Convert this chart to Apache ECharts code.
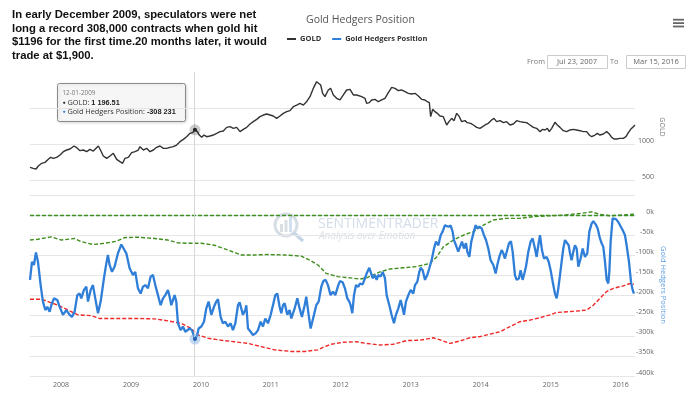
<!DOCTYPE html>
<html>
<head>
<meta charset="utf-8">
<title>Gold Hedgers Position</title>
<script src="https://cdn.jsdelivr.net/npm/echarts@6/dist/echarts.min.js"></script>
<style>
  html, body { margin: 0; padding: 0; background: #fff; }
  #chart { width: 700px; height: 399px; }
</style>
</head>
<body>
<div id="chart"></div>
<script>
// time is kept in decimal years (2009.915 = Dec 1, 2009)
const goldYears = [2007.557,2007.604,2007.643,2007.676,2007.724,2007.771,2007.819,2007.852,2007.890,2007.938,2007.986,2008.033,2008.081,2008.129,2008.186,2008.224,2008.272,2008.319,2008.367,2008.414,2008.462,2008.534,2008.557,2008.605,2008.653,2008.700,2008.748,2008.796,2008.843,2008.881,2008.915,2008.962,2009.010,2009.058,2009.105,2009.129,2009.177,2009.224,2009.272,2009.320,2009.367,2009.415,2009.463,2009.510,2009.558,2009.606,2009.653,2009.701,2009.749,2009.796,2009.844,2009.882,2009.915,2009.949,2009.977,2010.011,2010.044,2010.082,2010.130,2010.177,2010.225,2010.273,2010.320,2010.368,2010.416,2010.463,2010.511,2010.559,2010.606,2010.654,2010.702,2010.749,2010.797,2010.845,2010.892,2010.940,2010.988,2011.035,2011.083,2011.130,2011.178,2011.226,2011.273,2011.321,2011.369,2011.416,2011.464,2011.511,2011.559,2011.607,2011.654,2011.678,2011.712,2011.740,2011.773,2011.821,2011.854,2011.893,2011.940,2011.988,2012.036,2012.083,2012.131,2012.179,2012.226,2012.298,2012.345,2012.369,2012.407,2012.441,2012.488,2012.536,2012.584,2012.631,2012.679,2012.727,2012.774,2012.822,2012.869,2012.917,2012.965,2013.012,2013.060,2013.108,2013.155,2013.203,2013.236,2013.265,2013.284,2013.313,2013.346,2013.379,2013.417,2013.465,2013.513,2013.546,2013.584,2013.618,2013.656,2013.694,2013.727,2013.775,2013.808,2013.856,2013.894,2013.942,2013.989,2014.027,2014.061,2014.108,2014.156,2014.189,2014.227,2014.275,2014.323,2014.370,2014.418,2014.466,2014.513,2014.561,2014.609,2014.656,2014.704,2014.752,2014.799,2014.847,2014.885,2014.918,2014.952,2014.980,2015.014,2015.061,2015.095,2015.133,2015.180,2015.228,2015.276,2015.323,2015.371,2015.419,2015.466,2015.514,2015.552,2015.585,2015.633,2015.666,2015.704,2015.752,2015.800,2015.838,2015.871,2015.905,2015.943,2015.990,2016.038,2016.076,2016.110,2016.143,2016.181,2016.205];
const goldPrice = [677,663,654,696,733,746,788,816,802,816,848,894,917,931,972,949,908,917,894,926,903,972,931,834,802,834,871,788,756,733,802,816,880,894,917,963,917,940,894,917,954,972,940,940,954,963,986,1032,1064,1101,1147,1157,1196.51,1171,1124,1092,1124,1101,1111,1124,1147,1171,1180,1230,1240,1217,1230,1171,1203,1230,1277,1309,1341,1378,1401,1415,1401,1387,1355,1387,1424,1447,1461,1516,1539,1562,1539,1585,1655,1770,1862,1885,1816,1701,1655,1747,1770,1678,1632,1609,1678,1747,1755,1678,1678,1655,1632,1562,1572,1609,1618,1585,1609,1632,1710,1784,1770,1738,1747,1724,1701,1691,1701,1664,1618,1609,1585,1572,1378,1479,1447,1424,1387,1378,1263,1309,1355,1323,1424,1378,1309,1323,1295,1286,1263,1230,1217,1240,1263,1286,1332,1355,1309,1323,1295,1309,1263,1277,1323,1309,1300,1295,1263,1230,1217,1171,1203,1194,1217,1171,1217,1300,1263,1230,1184,1171,1194,1203,1194,1184,1171,1171,1124,1101,1124,1147,1124,1138,1171,1138,1092,1069,1069,1078,1078,1101,1157,1203,1240,1263];

// net position, thousands of contracts
const hedgerYears = [2007.557,2007.585,2007.614,2007.642,2007.671,2007.709,2007.742,2007.776,2007.804,2007.838,2007.861,2007.900,2007.947,2007.981,2008.028,2008.076,2008.124,2008.157,2008.195,2008.233,2008.266,2008.290,2008.328,2008.362,2008.386,2008.424,2008.457,2008.490,2008.529,2008.567,2008.614,2008.648,2008.671,2008.695,2008.729,2008.767,2008.814,2008.862,2008.895,2008.934,2008.981,2009.029,2009.062,2009.100,2009.138,2009.172,2009.205,2009.243,2009.281,2009.315,2009.348,2009.386,2009.424,2009.458,2009.491,2009.529,2009.553,2009.577,2009.624,2009.648,2009.672,2009.710,2009.743,2009.777,2009.805,2009.839,2009.872,2009.915,2009.948,2009.967,2010.006,2010.044,2010.077,2010.110,2010.149,2010.187,2010.220,2010.244,2010.282,2010.315,2010.349,2010.387,2010.425,2010.458,2010.492,2010.530,2010.554,2010.577,2010.601,2010.635,2010.649,2010.673,2010.711,2010.744,2010.782,2010.816,2010.854,2010.887,2010.920,2010.959,2010.997,2011.030,2011.063,2011.092,2011.125,2011.149,2011.173,2011.197,2011.235,2011.268,2011.292,2011.316,2011.340,2011.378,2011.411,2011.444,2011.483,2011.506,2011.540,2011.568,2011.587,2011.616,2011.649,2011.683,2011.721,2011.750,2011.783,2011.816,2011.854,2011.888,2011.921,2011.964,2011.988,2012.026,2012.059,2012.093,2012.121,2012.140,2012.164,2012.188,2012.217,2012.250,2012.274,2012.312,2012.345,2012.369,2012.407,2012.426,2012.455,2012.488,2012.512,2012.536,2012.569,2012.598,2012.631,2012.655,2012.693,2012.726,2012.760,2012.788,2012.822,2012.855,2012.884,2012.903,2012.931,2012.965,2012.998,2013.036,2013.060,2013.093,2013.122,2013.141,2013.170,2013.203,2013.236,2013.265,2013.298,2013.332,2013.360,2013.394,2013.427,2013.455,2013.489,2013.513,2013.536,2013.570,2013.598,2013.617,2013.646,2013.679,2013.703,2013.732,2013.760,2013.789,2013.808,2013.837,2013.865,2013.894,2013.927,2013.951,2013.980,2014.013,2014.046,2014.075,2014.108,2014.141,2014.180,2014.213,2014.237,2014.265,2014.299,2014.323,2014.346,2014.370,2014.404,2014.432,2014.456,2014.489,2014.513,2014.547,2014.570,2014.599,2014.623,2014.647,2014.680,2014.713,2014.742,2014.775,2014.799,2014.823,2014.847,2014.875,2014.904,2014.942,2014.971,2014.999,2015.037,2015.061,2015.085,2015.109,2015.133,2015.156,2015.180,2015.204,2015.228,2015.257,2015.276,2015.299,2015.323,2015.347,2015.371,2015.395,2015.428,2015.457,2015.490,2015.523,2015.552,2015.585,2015.609,2015.643,2015.671,2015.704,2015.728,2015.752,2015.776,2015.800,2015.823,2015.838,2015.857,2015.885,2015.905,2015.933,2015.966,2015.990,2016.028,2016.062,2016.085,2016.119,2016.148,2016.171,2016.190];
const hedgerPos = [-161,-116,-124,-93,-116,-174,-215,-236,-228,-240,-224,-207,-211,-228,-248,-236,-248,-253,-240,-199,-195,-207,-186,-178,-215,-186,-174,-207,-244,-215,-157,-120,-99,-124,-141,-128,-95,-73,-83,-95,-132,-149,-141,-182,-195,-178,-174,-182,-153,-149,-174,-199,-224,-207,-199,-186,-203,-224,-199,-215,-269,-286,-277,-290,-294,-282,-286,-308.231,-298,-282,-277,-265,-232,-215,-248,-228,-215,-209,-253,-269,-265,-277,-269,-286,-269,-224,-217,-232,-248,-236,-224,-282,-290,-298,-294,-286,-265,-277,-257,-269,-248,-224,-199,-195,-228,-244,-224,-219,-248,-236,-257,-261,-232,-207,-232,-253,-224,-203,-248,-282,-286,-248,-224,-215,-178,-164,-161,-174,-199,-190,-199,-174,-164,-167,-182,-207,-215,-224,-244,-199,-174,-178,-170,-172,-157,-145,-131,-141,-157,-149,-161,-149,-153,-141,-157,-199,-224,-248,-269,-248,-232,-211,-232,-248,-215,-199,-186,-195,-174,-166,-141,-131,-137,-161,-149,-132,-112,-83,-66,-75,-50,-41,-25,-21,-29,-26,-41,-62,-75,-91,-79,-66,-83,-70,-91,-104,-66,-46,-25,-33,-29,-33,-50,-62,-83,-112,-124,-145,-124,-104,-87,-95,-108,-104,-70,-65,-91,-149,-161,-157,-137,-161,-145,-128,-91,-66,-58,-83,-104,-75,-50,-87,-108,-104,-116,-137,-174,-195,-207,-182,-149,-116,-83,-62,-58,-75,-95,-112,-91,-75,-83,-128,-108,-83,-104,-95,-41,-21,-15,-23,-33,-58,-70,-79,-116,-161,-170,-141,-66,-8,-4,-10,-17,-21,-37,-50,-75,-116,-166,-186,-195];

// green dashed bands (upper) and red dashed band (lower), thousands
const topYears = [2007.557, 2016.190];
const topPos = [-1, -1];
const maxYears = [2007.557,2007.671,2007.861,2008.004,2008.195,2008.290,2008.457,2008.624,2008.791,2008.910,2009.100,2009.339,2009.529,2009.672,2009.815,2010.006,2010.196,2010.387,2010.577,2010.768,2010.959,2011.197,2011.435,2011.554,2011.673,2011.792,2011.959,2012.131,2012.274,2012.369,2012.560,2012.703,2012.893,2013.084,2013.274,2013.370,2013.465,2013.608,2013.751,2013.894,2014.037,2014.180,2014.370,2014.561,2014.751,2014.942,2015.180,2015.418,2015.585,2015.704,2015.847,2015.990,2016.190];
const maxPos = [-62,-60,-54,-62,-58,-66,-73,-70,-65,-56,-55,-58,-62,-69,-70,-70,-75,-87,-99,-99,-98,-99,-102,-112,-124,-145,-153,-156,-159,-156,-141,-134,-131,-128,-120,-104,-79,-62,-50,-41,-25,-12,-8,-8,-4,-2,0,4,8,2,-2,0,2];
const minYears = [2007.557,2007.719,2007.814,2007.957,2008.100,2008.243,2008.433,2008.552,2008.767,2009.100,2009.339,2009.529,2009.720,2009.863,2009.958,2010.101,2010.291,2010.482,2010.673,2010.863,2011.054,2011.292,2011.483,2011.673,2011.768,2011.864,2012.036,2012.226,2012.369,2012.560,2012.750,2012.941,2013.131,2013.322,2013.465,2013.560,2013.703,2013.846,2013.989,2014.132,2014.275,2014.418,2014.561,2014.704,2014.847,2014.990,2015.085,2015.276,2015.514,2015.609,2015.704,2015.800,2015.895,2016.038,2016.133,2016.190];
const minPos = [-209,-209,-215,-224,-236,-248,-250,-257,-257,-257,-258,-263,-269,-282,-298,-306,-311,-315,-319,-327,-335,-339,-339,-335,-327,-321,-316,-315,-319,-323,-321,-312,-311,-305,-313,-319,-313,-305,-302,-296,-290,-277,-265,-261,-255,-248,-242,-240,-236,-224,-207,-190,-182,-176,-170,-172];

const yearTicks = [2008, 2009, 2010, 2011, 2012, 2013, 2014, 2015, 2016];
const goldTicks = [500, 1000];

// point under the cursor
const hlYear = 2009.915;
const hlLabel = '12-01-2009';
const hlGold = 1196.51;
const hlPosition = -308231;

const xMin = 2007.557, xMax = 2016.205;
const FONT = 'Open Sans';
const BLUE = '#2f7ed8';

function pairs(xs, ys){ return xs.map((x, i) => [x, ys[i]]); }
function spaced(n, dec){
    let s = Math.abs(n).toFixed(dec).split('.');
    let i = s[0].replace(/\B(?=(\d{3})+(?!\d))/g, ' ');
    return (n < 0 ? '-' : '') + i + (s[1] ? '.' + s[1] : '');
}

let chart = echarts.init(document.getElementById('chart'));

const dashed = (color) => ({ color: color, width: 1.4, type: [4, 2] });
const halo = (y, c1, c2) => ({
    symbol: 'circle', silent: true, label: {show: false},
    data: [
        {coord: [hlYear, y], symbolSize: 11, itemStyle: {color: c1}},
        {coord: [hlYear, y], symbolSize: 4, itemStyle: {color: c2}}
    ]
});
const crossLine = {
    silent: true, symbol: 'none', label: {show: false},
    lineStyle: {color: '#d8d8d8', width: 1, type: 'solid'},
    data: [{xAxis: hlYear}]
};

option = {
    animation: false,
    title: {
        text: 'Gold Hedgers Position',
        left: 306, top: 15, padding: 0,
        textStyle: {fontFamily: FONT, fontSize: 10.5, fontWeight: 'normal', color: '#555'}
    },
    legend: {
        data: ['GOLD', 'Gold Hedgers Position'],
        left: 287, top: 35, padding: 0,
        icon: 'rect', itemWidth: 9, itemHeight: 2, itemGap: 11,
        textStyle: {fontFamily: FONT, fontSize: 7.5, fontWeight: 'bold', color: '#333', padding: [0, 0, 0, -1]}
    },
    grid: [
        {left: 30, right: 65, top: 71.7, height: 144.6},
        {left: 30, right: 65, top: 195, height: 181}
    ],
    xAxis: [
        {gridIndex: 0, type: 'value', min: xMin, max: xMax, show: false},
        {
            gridIndex: 1, type: 'value', min: xMin, max: xMax,
            axisLine: {lineStyle: {color: '#ccd6eb'}},
            axisTick: {show: false},
            splitLine: {show: false},
            axisLabel: {
                customValues: yearTicks,
                formatter: v => String(Math.round(v)),
                fontFamily: FONT, fontSize: 7, color: '#666', margin: 5
            }
        }
    ],
    yAxis: [
        {
            gridIndex: 0, type: 'value', position: 'right',
            min: 0, max: 2000, interval: 500,
            axisLine: {show: false}, axisTick: {show: false},
            splitLine: {showMinLine: false, showMaxLine: false, lineStyle: {color: '#e6e6e6'}},
            axisLabel: {
                align: 'right', margin: 19, verticalAlign: 'bottom',
                fontFamily: FONT, fontSize: 7, color: '#666',
                formatter: v => goldTicks.indexOf(v) >= 0 ? String(v) : ''
            }
        },
        {
            gridIndex: 1, type: 'value', position: 'right',
            min: -400, max: 50, interval: 50,
            axisLine: {show: false}, axisTick: {show: false},
            splitLine: {lineStyle: {color: '#e6e6e6'}},
            axisLabel: {
                align: 'right', margin: 19, verticalAlign: 'bottom',
                fontFamily: FONT, fontSize: 7, color: '#666',
                formatter: v => v > 0 ? '' : v + 'k'
            }
        }
    ],
    series: [
        {
            name: 'GOLD', type: 'line', xAxisIndex: 0, yAxisIndex: 0,
            data: pairs(goldYears, goldPrice),
            showSymbol: false, color: '#333',
            lineStyle: {width: 1.4, color: '#333'},
            markLine: crossLine,
            markPoint: halo(hlGold, 'rgba(0,0,0,0.2)', '#222'),
            z: 4
        },
        {
            name: 'top', type: 'line', xAxisIndex: 1, yAxisIndex: 1,
            data: pairs(topYears, topPos), showSymbol: false,
            lineStyle: dashed('#3f8f1f'), z: 2
        },
        {
            name: 'max', type: 'line', xAxisIndex: 1, yAxisIndex: 1,
            data: pairs(maxYears, maxPos), showSymbol: false,
            lineStyle: dashed('#3f8f1f'), z: 2
        },
        {
            name: 'min', type: 'line', xAxisIndex: 1, yAxisIndex: 1,
            data: pairs(minYears, minPos), showSymbol: false,
            lineStyle: dashed('#f02828'), z: 2
        },
        {
            name: 'Gold Hedgers Position', type: 'line', xAxisIndex: 1, yAxisIndex: 1,
            data: pairs(hedgerYears, hedgerPos),
            showSymbol: false, color: BLUE,
            lineStyle: {width: 2.3, color: BLUE},
            markLine: crossLine,
            markPoint: halo(hlPosition / 1000, 'rgba(124,170,230,0.45)', '#1f5fb0'),
            z: 3
        }
    ],
    graphic: [
        // watermark
        {
            type: 'group', z: 0, silent: true,
            children: [
                {type: 'circle', shape: {cx: 286, cy: 225, r: 11}, style: {fill: 'none', stroke: '#d6dde5', lineWidth: 3}},
                {type: 'line', shape: {x1: 294, y1: 233, x2: 303, y2: 241}, style: {stroke: '#c6d6e8', lineWidth: 3.5}},
                {type: 'rect', shape: {x: 280, y: 224, width: 3, height: 8}, style: {fill: '#dadfe4'}},
                {type: 'rect', shape: {x: 284.5, y: 220, width: 3, height: 12}, style: {fill: '#dadfe4'}},
                {type: 'rect', shape: {x: 289, y: 217, width: 3, height: 15}, style: {fill: '#d2e0f0'}},
                {type: 'text', x: 318, y: 224, style: {text: 'SENTIMENTRADER', fill: '#d3dde8', font: '14px "Open Sans"', textVerticalAlign: 'middle'}},
                {type: 'text', x: 319, y: 236, style: {text: 'Analysis over Emotion', fill: '#dbe1e8', font: 'italic 10px "Open Sans"', textVerticalAlign: 'middle'}}
            ]
        },
        // annotation
        {
            type: 'text', x: 12, y: 8.5, z: 10,
            style: {
                text: 'In early December 2009, speculators were net\nlong a record 308,000 contracts when gold hit\n$1196 for the first time.20 months later, it would\ntrade at $1,900.',
                font: 'bold 11.3px "Liberation Sans", Arial, sans-serif',
                lineHeight: 13.4, fill: '#111'
            }
        },
        // range inputs
        {type: 'text', x: 527, y: 62, style: {text: 'From', font: '7.3px "Open Sans"', fill: '#777', textVerticalAlign: 'middle'}},
        {type: 'rect', shape: {x: 547.5, y: 55.5, width: 60, height: 13}, style: {fill: '#fff', stroke: '#ccc', lineWidth: 1}},
        {type: 'text', x: 577, y: 62, style: {text: 'Jul 23, 2007', font: '7.5px "Open Sans"', fill: '#666', textAlign: 'center', textVerticalAlign: 'middle'}},
        {type: 'text', x: 610, y: 62, style: {text: 'To', font: '7.3px "Open Sans"', fill: '#777', textVerticalAlign: 'middle'}},
        {type: 'rect', shape: {x: 626.5, y: 55.5, width: 59, height: 13}, style: {fill: '#fff', stroke: '#ccc', lineWidth: 1}},
        {type: 'text', x: 656, y: 62, style: {text: 'Mar 15, 2016', font: '7.5px "Open Sans"', fill: '#666', textAlign: 'center', textVerticalAlign: 'middle'}},
        // export menu
        {type: 'rect', shape: {x: 673, y: 18.8, width: 11, height: 1.8}, style: {fill: '#666'}},
        {type: 'rect', shape: {x: 673, y: 22.2, width: 11, height: 1.8}, style: {fill: '#666'}},
        {type: 'rect', shape: {x: 673, y: 25.6, width: 11, height: 1.8}, style: {fill: '#666'}},
        // axis titles
        {type: 'text', x: 662, y: 127, rotation: -Math.PI / 2, style: {text: 'GOLD', font: '7px "Open Sans"', fill: '#777', textAlign: 'center', textVerticalAlign: 'middle'}},
        {type: 'text', x: 663, y: 285, rotation: -Math.PI / 2, style: {text: 'Gold Hedgers Position', font: '7.5px "Open Sans"', fill: '#5b9be0', textAlign: 'center', textVerticalAlign: 'middle'}},
        // tooltip
        {
            type: 'group', x: 57.5, y: 83.5, z: 100,
            children: [
                {type: 'rect', shape: {x: 0, y: 0, width: 128, height: 38, r: 2}, style: {fill: 'rgba(248,248,248,0.9)', stroke: '#8a8a8a', lineWidth: 1, shadowBlur: 3, shadowColor: 'rgba(0,0,0,0.15)', shadowOffsetX: 1, shadowOffsetY: 1}},
                {type: 'text', x: 5, y: 9.3, style: {text: hlLabel, font: '6.3px "Open Sans"', fill: '#777', textVerticalAlign: 'middle'}},
                {type: 'text', x: 5, y: 19.2, style: {
                    text: '{k|●} GOLD: {b|' + spaced(hlGold, 2) + '}',
                    font: '7.3px "Open Sans"', fill: '#333', textVerticalAlign: 'middle',
                    rich: {k: {fill: '#222', fontSize: 5}, b: {fontWeight: 'bold', fontSize: 7.3, fill: '#222'}}
                }},
                {type: 'text', x: 5, y: 28.2, style: {
                    text: '{u|●} Gold Hedgers Position: {b|' + spaced(hlPosition, 0) + '}',
                    font: '7.3px "Open Sans"', fill: '#333', textVerticalAlign: 'middle',
                    rich: {u: {fill: BLUE, fontSize: 5}, b: {fontWeight: 'bold', fontSize: 7.3, fill: '#222'}}
                }}
            ]
        }
    ]
};
chart.setOption(option);
</script>
</body>
</html>
